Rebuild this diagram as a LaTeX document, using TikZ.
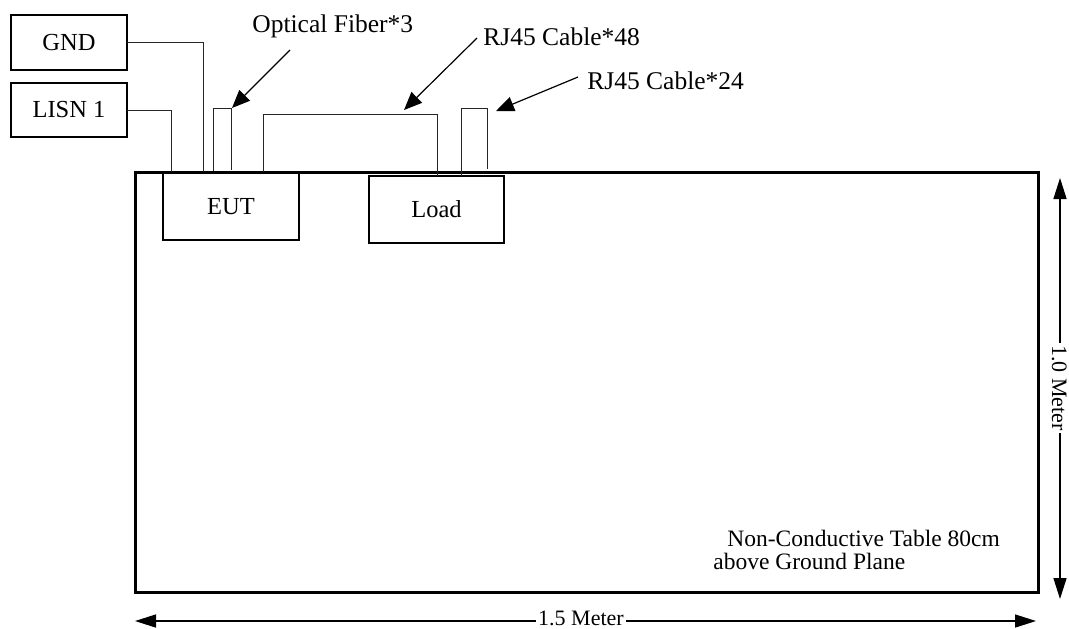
\documentclass[tikz,border=0pt]{standalone}
\usepackage{fontspec}
\setmainfont{Liberation Serif}
\usetikzlibrary{arrows.meta}
\begin{document}
\begin{tikzpicture}[x=0.5pt,y=-0.5pt,
  boxnode/.style={draw,line width=0.6pt,inner sep=0pt,outer sep=0pt,font=\fontsize{12.25}{14}\selectfont},
  tablebox/.style={draw,line width=1.5pt,inner sep=0pt,outer sep=0pt},
  wire/.style={line width=0.5pt,draw=black!85},
  callout/.style={line width=0.6pt,-{Triangle[length=9pt,width=7.5pt]}},
  dimline/.style={line width=0.7pt,{Triangle[length=10.5pt,width=6.5pt]}-{Triangle[length=10.5pt,width=6.5pt]}},
  lbl/.style={inner sep=0pt,font=\fontsize{12.75}{15}\selectfont},
  dimlbl/.style={fill=white,inner sep=1pt,font=\fontsize{11}{13}\selectfont}]
\useasboundingbox (0,0) rectangle (1069,628);
% table
\node[tablebox,minimum width=451.5pt,minimum height=210pt] (table) at (586.5,382) {};
% boxes
\node[boxnode,minimum width=58pt,minimum height=27.5pt] (gnd) at (69,42.5) {GND};
\node[boxnode,minimum width=58pt,minimum height=27pt] (lisn) at (69,110) {LISN 1};
\node[boxnode,minimum width=68pt,minimum height=33.5pt] (eut) at (231,206.5) {EUT};
\node[boxnode,minimum width=67.5pt,minimum height=33.5pt] (load) at (436.5,209.5) {Load};
% wire end points
\coordinate (gndT) at (203,172);
\coordinate (lisnT) at (171,172);
\coordinate (fibL) at (213,171);
\coordinate (fibTop) at (231,108);
\coordinate (fibR) at (231,170);
\coordinate (r48L) at (263,172);
\coordinate (r48Top) at (437,114);
\coordinate (r48R) at (437,176);
\coordinate (r24L) at (461,176);
\coordinate (r24Top) at (487,108);
\coordinate (r24R) at (487,169);
% wires
\draw[wire] (gnd.east |- 0,42) -| (gndT);
\draw[wire] (lisn.east) -| (lisnT);
\draw[wire] (fibL) |- (fibTop) -- (fibR);
\draw[wire] (r48L) |- (r48Top) -- (r48R);
\draw[wire] (r24L) |- (r24Top) -- (r24R);
% labels
\node[lbl,anchor=base west] (lfib) at (252,32) {Optical Fiber*3};
\node[lbl,anchor=base west] (l48) at (483,45) {RJ45 Cable*48};
\node[lbl,anchor=base west] (l24) at (587,89) {RJ45 Cable*24};
% callout arrows
\coordinate (a1s) at (290,50);
\coordinate (a1e) at (232,108);
\coordinate (a2s) at (477,38);
\coordinate (a2e) at (404,110);
\coordinate (a3s) at (578,77);
\coordinate (a3e) at (496,111);
\draw[callout] (a1s) -- (a1e);
\draw[callout] (a2s) -- (a2e);
\draw[callout] (a3s) -- (a3e);
% table text
\node[anchor=base west,inner sep=0pt,font=\fontsize{11.75}{14}\selectfont] (t1) at (727,546) {Non-Conductive Table 80cm};
\node[anchor=base west,inner sep=0pt,font=\fontsize{11.75}{14}\selectfont] (t2) at (713,569) {above Ground Plane};
% dimensions
\coordinate (hL) at (135,621);
\coordinate (hR) at (1036,621);
\coordinate (vT) at (1060,178);
\coordinate (vB) at (1060,599);
\draw[dimline] (hL) -- (hR);
\draw[dimline] (vT) -- (vB);
\node[dimlbl,anchor=base,inner ysep=0.5pt] (hlbl) at (581,625) {1.5 Meter};
\node[dimlbl,anchor=base,rotate=-90] (vlbl) at (1052,388) {1.0 Meter};
\end{tikzpicture}
\end{document}
